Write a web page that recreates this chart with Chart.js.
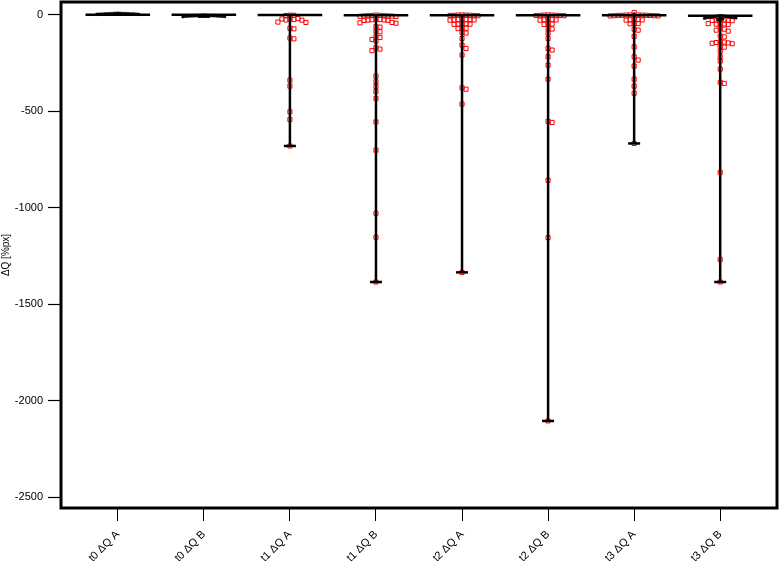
<!DOCTYPE html>
<html>
<head>
<meta charset="utf-8">
<script src="https://cdn.jsdelivr.net/npm/chart.js@4"></script>
<style>
  body { margin: 0; background: #fff; }
  canvas { display: block; }
</style>
</head>
<body>
<canvas id="chart" width="779" height="561"></canvas>
<script>
// categories and tick labels
const categories = ["t0 \u0394Q A", "t0 \u0394Q B", "t1 \u0394Q A", "t1 \u0394Q B", "t2 \u0394Q A", "t2 \u0394Q B", "t3 \u0394Q A", "t3 \u0394Q B"];
const yTicks = [0, -500, -1000, -1500, -2000, -2500];

// red points
const t1A = [-2, -3, -4, -20, -22, -24, -25, -27, -28, -38, -40, -70, -73, -121, -125, -339, -370, -503, -543, -680];
const t1B = [-2, -3, -4, -5, -5, -6, -6, -7, -8, -9, -24, -25, -26, -27, -28, -29, -30, -40, -42, -44, -62, -64, -84, -88, -112, -118, -128, -136, -170, -178, -186, -318, -347, -372, -398, -434, -555, -702, -1029, -1153, -1385];
const t2A = [-1, -2, -2, -3, -3, -4, -4, -5, -24, -25, -25, -26, -27, -27, -28, -46, -47, -48, -49, -50, -68, -70, -72, -92, -95, -123, -157, -175, -209, -378, -386, -463, -1335];
const t2B = [-1, -2, -2, -3, -3, -4, -4, -5, -24, -25, -26, -27, -28, -46, -48, -50, -70, -74, -95, -123, -175, -183, -218, -261, -334, -553, -558, -858, -1155, -2105];
const t3A = [12, -1, -1, -2, -2, -3, -3, -4, -4, -5, -5, -6, -6, -24, -25, -26, -27, -28, -45, -46, -47, -75, -80, -112, -166, -218, -235, -266, -334, -370, -407, -667];
const t3B = [-26, -27, -28, -29, -30, -31, -46, -47, -48, -49, -50, -70, -75, -80, -85, -110, -115, -140, -142, -144, -146, -148, -150, -165, -168, -190, -218, -240, -282, -350, -356, -817, -1268, -1385];
const redValues = [[], [], t1A, t1B, t2A, t2B, t3A, t3B];

// black points (dense near zero)
const t0A = [2, 3, 4, 5, 6, 7, 8, 3, 4, 5, 6, 7, 2, 5, 6, 4, 3];
const t0B = [-2, -3, -4, -5, -6, -7, -8, -9, -10, -4, -5, -6, -7, -8, -3, -6, -5];
const t3Bk = [-5, -6, -7, -8, -9, -10, -11, -12, -13, -14, -15, -16, -18, -20, -22, -25];
const blackValues = [t0A, t0B, [], [], [], [], [], t3Bk];

const medians = [0, 0, -2, -3, -3, -3, -3, -5];

const Y_MIN = -2556, Y_MAX = 66;
const X_MIN = -0.66, X_MAX = 7.66;
const pxX = 716 / (X_MAX - X_MIN);
const pxY = 506 / (Y_MAX - Y_MIN);

// simple beeswarm so that markers don't sit on top of each other
function swarm(vals, cat, size) {
  const placed = [];
  vals.slice().sort((a, b) => b - a).forEach(v => {
    const py = v * pxY;
    let off = 0;
    for (let n = 0; n < 200; n++) {
      off = n === 0 ? 0 : (n % 2 ? 1 : -1) * Math.ceil(n / 2) * size;
      const hit = placed.some(p => Math.abs(p.px - off) < size - 0.01 && Math.abs(p.py - py) < size - 0.01);
      if (!hit) break;
    }
    placed.push({ px: off, py: py, v: v });
  });
  return placed.map(p => ({ x: cat + p.px / pxX, y: p.v }));
}

const redPoints = [];
const blackPoints = [];
redValues.forEach((vals, i) => redPoints.push(...swarm(vals, i, 4.0)));
blackValues.forEach((vals, i) => blackPoints.push(...swarm(vals, i, 2.6)));

const datasets = [
  {
    data: redPoints, order: 2,
    pointStyle: "rect", pointRadius: 2.9,
    borderColor: "#ff0000", backgroundColor: "rgba(255,255,255,0)", borderWidth: 1
  },
  {
    data: blackPoints, order: 1,
    pointStyle: "rect", pointRadius: 1.8,
    borderColor: "#000", backgroundColor: "#000", borderWidth: 0.5
  }
];

categories.forEach((c, i) => {
  const all = redValues[i].concat(blackValues[i]);
  const max = Math.max(...all), min = Math.min(...all);
  // range whisker with a cap at the minimum
  datasets.push({
    data: [{ x: i, y: max }, { x: i, y: min }], order: 0,
    showLine: true, borderColor: "#000", borderWidth: 2.5,
    pointStyle: "line", pointRadius: ctx => ctx.dataIndex === 1 ? 6 : 0,
    pointBorderColor: "#000", pointBorderWidth: 2.5
  });
  // median line
  datasets.push({
    data: [{ x: i - 0.375, y: medians[i] }, { x: i + 0.375, y: medians[i] }], order: 0,
    showLine: true, borderColor: "#000", borderWidth: 2.5, pointRadius: 0
  });
});

const framePlugin = {
  id: "frame",
  afterDraw(chart) {
    const a = chart.chartArea, ctx = chart.ctx;
    ctx.save();
    ctx.strokeStyle = "#000";
    ctx.lineWidth = 3;
    ctx.strokeRect(a.left, a.top, a.right - a.left, a.bottom - a.top);
    ctx.restore();
  }
};

Chart.defaults.font.family = "'Liberation Sans', Arial, sans-serif";
Chart.defaults.color = "#000";

new Chart(document.getElementById("chart"), {
  type: "scatter",
  data: { datasets: datasets },
  options: {
    responsive: false,
    animation: false,
    events: [],
    devicePixelRatio: 1,
    layout: { autoPadding: false, padding: { top: 2, right: 2, left: 0, bottom: 0 } },
    plugins: { legend: { display: false }, tooltip: { enabled: false } },
    scales: {
      x: {
        type: "linear", min: X_MIN, max: X_MAX,
        afterBuildTicks: scale => { scale.ticks = categories.map((c, i) => ({ value: i })); },
        afterFit: scale => {
          scale.height = 53;
          scale.paddingLeft = 0; scale.paddingRight = 0;
        },
        ticks: {
          callback: v => categories[v],
          minRotation: 45, maxRotation: 45,
          font: { size: 11 }, padding: 7, color: "#000"
        },
        grid: { display: true, drawOnChartArea: false, drawTicks: true, tickLength: 13, tickColor: "#000", tickWidth: 1 },
        border: { display: false }
      },
      y: {
        type: "linear", min: Y_MIN, max: Y_MAX,
        afterBuildTicks: scale => { scale.ticks = yTicks.map(v => ({ value: v })); },
        afterFit: scale => {
          scale.width = 61;
          scale.paddingTop = 0; scale.paddingBottom = 0;
        },
        ticks: { callback: v => String(v), font: { size: 11 }, padding: 5, color: "#000" },
        grid: { display: true, drawOnChartArea: false, drawTicks: true, tickLength: 13, tickColor: "#000", tickWidth: 1.2 },
        border: { display: false },
        title: { display: true, text: "\u0394Q [%px]", font: { size: 10 }, padding: { top: 0, bottom: 0 }, color: "#000" }
      }
    }
  },
  plugins: [framePlugin]
});
</script>
</body>
</html>
